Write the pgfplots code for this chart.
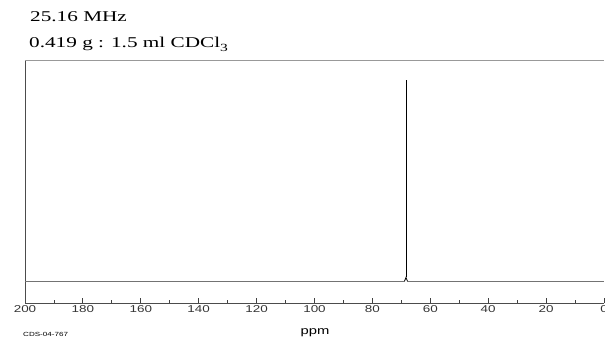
\documentclass[border=0pt]{standalone}
\usepackage{fontspec}
\usepackage{pgfplots}
\pgfplotsset{compat=1.18}
\newfontfamily\titlefont[FakeStretch=1.42]{Liberation Serif}
\newfontfamily\labfont[FakeStretch=1.35]{Liberation Sans}
\begin{document}
\begin{tikzpicture}[x=1bp,y=1bp]
\useasboundingbox (-25,-37) rectangle (580,303);
\begin{axis}[
  at={(0,0)}, anchor=south west,
  scale only axis, width=579bp, height=243bp,
  x dir=reverse, xmin=0, xmax=200,
  ymin=-10.9, ymax=110,
  axis x line=bottom, axis y line=left,
  axis line style={-, draw=black!70, line width=0.9pt},
  xtick={0,20,...,200}, minor xtick={10,30,...,190},
  ytick=\empty,
  tick align=inside,
  major tick length=5bp, minor tick length=3bp,
  tick style={black!75, line width=0.8pt},
  xticklabel style={font=\labfont\fontsize{10}{10}\selectfont, text=black!80, yshift=1bp},
  /pgf/number format/assume math mode=true,
  clip=false,
]
\draw[black!40, line width=1pt] (rel axis cs:0,1) -- (rel axis cs:1,1);
\addplot[black!55, line width=1pt] coordinates {(200,0) (68.9,0)};
\addplot[black!55, line width=1pt] coordinates {(67.9,0) (0,0)};
\addplot[black, line width=0.8pt, line join=miter] coordinates {(68.9,0) (68.4,1.8) (67.9,0)};
\addplot[black, line width=0.8pt] coordinates {(68.4,1.8) (68.4,100)};
\end{axis}
\node[anchor=west, inner sep=0pt] at (5,286) {\titlefont\fontsize{15}{15}\selectfont 25.16 MHz};
\node[anchor=west, inner sep=0pt] at (4,259) {\titlefont\fontsize{15}{15}\selectfont 0.419 g : 1.5 ml CDCl\raisebox{-4bp}{\fontsize{11}{11}\selectfont 3}};
\node[inner sep=0pt] at (290,-30) {\labfont\fontsize{11}{11}\selectfont ppm};
\node[anchor=west, inner sep=0pt] at (-2,-31) {\labfont\fontsize{6}{6}\selectfont CDS-04-767};
\end{tikzpicture}
\end{document}
